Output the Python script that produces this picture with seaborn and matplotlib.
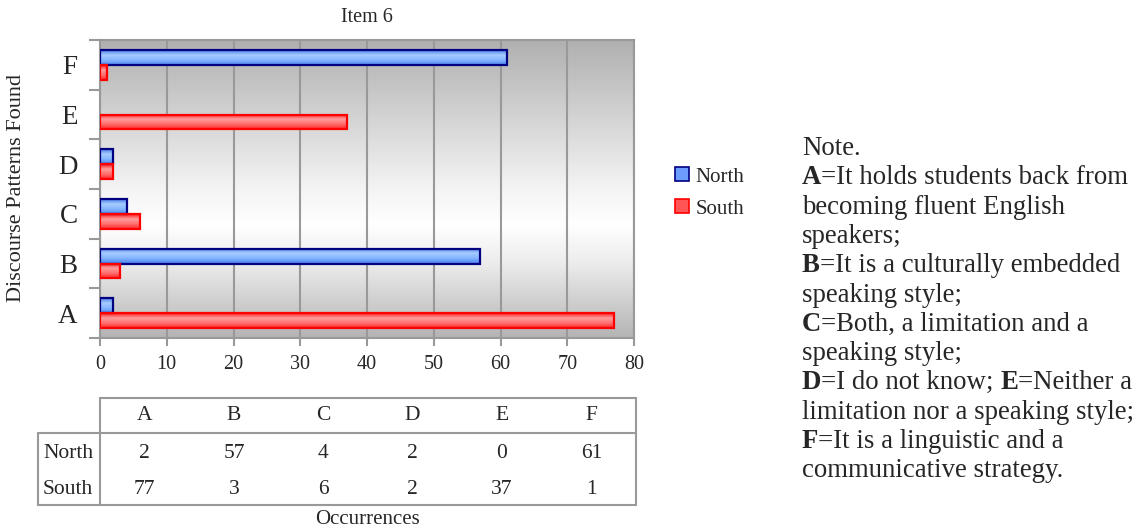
import numpy as np
import pandas as pd
import matplotlib
matplotlib.use("Agg")
import matplotlib.pyplot as plt
import seaborn as sns
from matplotlib.patches import Patch
from matplotlib.colors import LinearSegmentedColormap

# ---- data ----
categories = ["A", "B", "C", "D", "E", "F"]
north = [2, 57, 4, 2, 0, 61]
south = [77, 3, 6, 2, 37, 1]
series = ["North", "South"]
x_ticks = [0, 10, 20, 30, 40, 50, 60, 70, 80]
title = "Item 6"
y_label = "Discourse Patterns Found"
x_label = "Occurrences"
note_lines = [
    [("Note.", False)],
    [("A", True), ("=It holds students back from", False)],
    [("becoming fluent English", False)],
    [("speakers;", False)],
    [("B", True), ("=It is a culturally embedded", False)],
    [("speaking style;", False)],
    [("C", True), ("=Both, a limitation and a", False)],
    [("speaking style;", False)],
    [("D", True), ("=I do not know; ", False), ("E", True), ("=Neither a", False)],
    [("limitation nor a speaking style;", False)],
    [("F", True), ("=It is a linguistic and a", False)],
    [("communicative strategy.", False)],
]

sns.set_theme(style="white")
plt.rcParams["font.family"] = ["Liberation Serif", "DejaVu Serif"]

W, H = 1137, 531
fig = plt.figure(figsize=(W / 100, H / 100), dpi=100)

def fx(x):
    return x / W

def fy(y):
    return 1 - y / H

ax_l, ax_r, ax_t, ax_b = 100, 634, 40, 338
ax = fig.add_axes([fx(ax_l), fy(ax_b), fx(ax_r - ax_l), (ax_b - ax_t) / H])

df = pd.DataFrame({
    "cat": categories * 2,
    "val": north + south,
    "series": [series[0]] * len(categories) + [series[1]] * len(categories),
})
order = categories[::-1]
base_col = {"North": "#5b8ff2", "South": "#ff3535"}
edge_col = {"North": "#000080", "South": "#ff0000"}
sns.barplot(data=df, x="val", y="cat", hue="series", order=order,
            hue_order=series, orient="h", width=0.6, palette=base_col,
            saturation=1, ax=ax, legend=False)

grad_maps = {
    "North": LinearSegmentedColormap.from_list("n", ["#4a7ee8", "#a6ccff", "#86b6ff", "#5088f0"]),
    "South": LinearSegmentedColormap.from_list("s", ["#ff2020", "#ff9c9c", "#ff7070", "#ff2828"]),
}
north_rgb = matplotlib.colors.to_rgb(base_col["North"])
for p in list(ax.patches):
    fc = p.get_facecolor()[:3]
    key = "North" if np.allclose(fc, north_rgb, atol=0.02) else "South"
    x0, y0, w, h = p.get_x(), p.get_y(), p.get_width(), p.get_height()
    if w <= 0:
        p.set_visible(False)
        continue
    g = np.linspace(0, 1, 64).reshape(-1, 1)
    im = ax.imshow(g, cmap=grad_maps[key], extent=(x0, x0 + w, y0 + h, y0),
                   origin="upper", aspect="auto", zorder=2.5, interpolation="bilinear")
    im.set_clip_path(p)
    p.set_facecolor("none")
    p.set_edgecolor(edge_col[key])
    p.set_linewidth(1.6)
    p.set_zorder(3)

# background gradient
bg_cmap = LinearSegmentedColormap.from_list(
    "bg", [(0, "#b0b0b0"), (0.5, "#f4f4f4"), (0.62, "#ffffff"), (0.75, "#ececec"), (1, "#b4b4b4")])
ax.imshow(np.linspace(0, 1, 256).reshape(-1, 1), cmap=bg_cmap, extent=(0, 80, 5.5, -0.5),
          origin="upper", aspect="auto", zorder=0, interpolation="bilinear")

ax.set_xlim(0, 80)
ax.set_ylim(5.5, -0.5)
ax.set_xticks(x_ticks)
ax.set_xticklabels([str(t) for t in x_ticks], fontsize=14.5)
ax.set_yticks(range(len(order)))
ax.set_yticklabels(order, fontsize=19.5)
ax.set_yticks(np.arange(-0.5, len(order), 1.0), minor=True)
ax.tick_params(axis="y", which="major", length=0, pad=16)
ax.tick_params(axis="y", which="minor", length=8, width=1.5, color="#999999", direction="out", left=True)
ax.tick_params(axis="x", which="major", length=6, width=1.5, color="#999999", direction="out", bottom=True, pad=6)
for t in x_ticks:
    ax.axvline(t, color="#999999", lw=1.5, zorder=1)
for s in ax.spines.values():
    s.set_color("#999999")
    s.set_linewidth(1.5)
ax.set_xlabel("")
ax.set_ylabel("")
fig.text(fx(17), fy(188), y_label, rotation=90, ha="center", va="center", fontsize=16)
fig.text(fx(367), fy(17), title, ha="center", va="center", fontsize=14.5)

# ---- data table ----
gray = "#999999"
tb_left, hdr_top, hdr_bot, tb_bot = 38, 398, 433, 505
col_w = (ax_r + 2 - ax_l) / len(categories)
lines = [
    ((ax_l, ax_r + 2), (hdr_top, hdr_top)),
    ((ax_l, ax_l), (hdr_top, hdr_bot)),
    ((ax_r + 2, ax_r + 2), (hdr_top, tb_bot)),
    ((tb_left, ax_r + 2), (hdr_bot, hdr_bot)),
    ((tb_left, ax_r + 2), (tb_bot, tb_bot)),
    ((tb_left, tb_left), (hdr_bot, tb_bot)),
    ((ax_l, ax_l), (hdr_bot, tb_bot)),
]
for (xs, ys) in lines:
    fig.add_artist(plt.Line2D([fx(xs[0]), fx(xs[1])], [fy(ys[0]), fy(ys[1])],
                              color=gray, lw=1.5, transform=fig.transFigure))
row_y = {"North": 453, "South": 489}
vals = {"North": north, "South": south}
for i, c in enumerate(categories):
    cx = ax_l + col_w * (i + 0.5)
    fig.text(fx(cx), fy(416), c, ha="center", va="center", fontsize=15.5)
    for s in series:
        fig.text(fx(cx), fy(row_y[s]), str(vals[s][i]), ha="center", va="center", fontsize=15.5)
for s in series:
    fig.text(fx(68), fy(row_y[s]), s, ha="center", va="center", fontsize=15.5)
fig.text(fx(367), fy(520), x_label, ha="center", va="center", fontsize=15)

# ---- legend ----
handles = [Patch(facecolor="#6d9cff", edgecolor="#000080", lw=1.2),
           Patch(facecolor="#ff5555", edgecolor="#ff0000", lw=1.2)]
fig.legend(handles, series, loc="center left", bbox_to_anchor=(fx(675), fy(193)),
           frameon=False, fontsize=15, handlelength=0.65, handleheight=0.65,
           handletextpad=0.35, labelspacing=0.6, borderaxespad=0, borderpad=0)

# ---- note ----
fig.canvas.draw()
rend = fig.canvas.get_renderer()
for k, parts in enumerate(note_lines):
    yb = fy(148 + k * 29.3 + 7)
    xcur = fx(802)
    for txt, bold in parts:
        t = fig.text(xcur, yb, txt, ha="left", va="baseline", fontsize=19.3,
                     fontweight="bold" if bold else "normal")
        bb = t.get_window_extent(renderer=rend)
        xcur += bb.width / W

fig.savefig("out.png", dpi=100)
